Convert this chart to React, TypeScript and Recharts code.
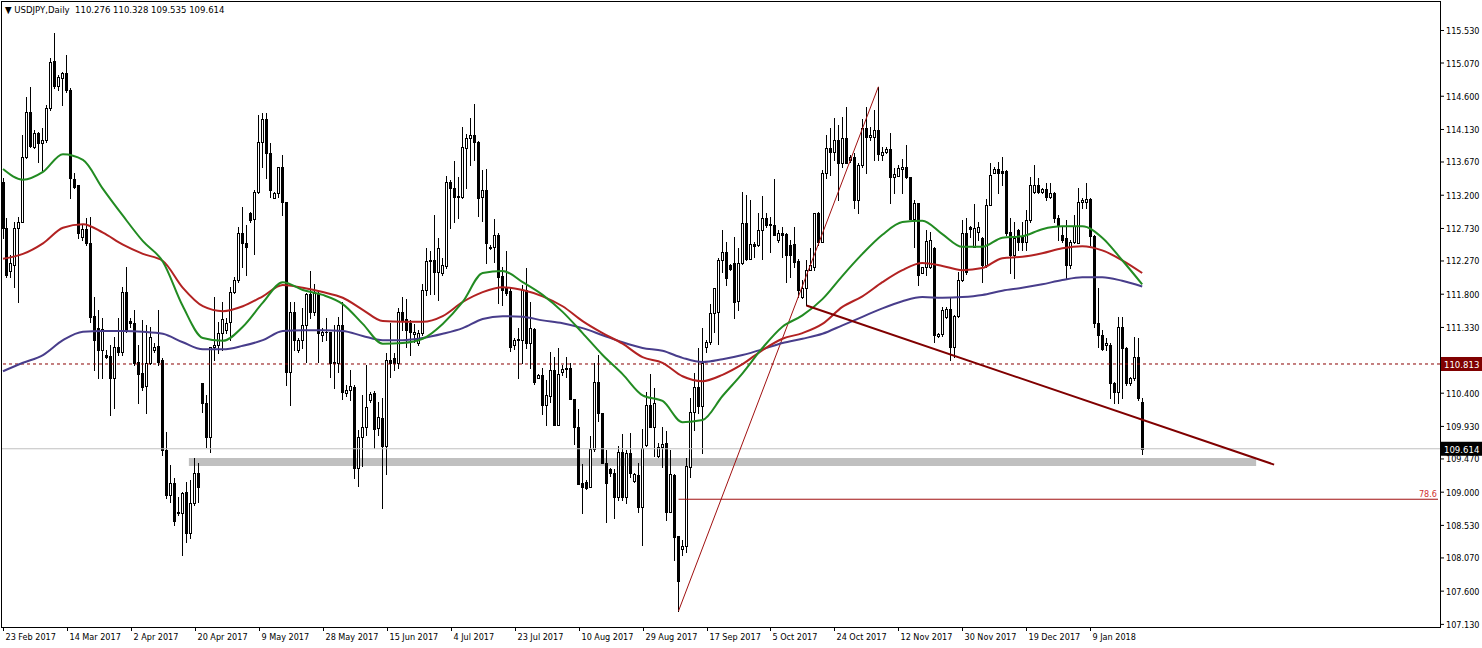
import React from 'react'
import { ComposedChart, Bar, Line, XAxis, YAxis, ReferenceLine, ReferenceArea, ReferenceDot } from 'recharts'

// USDJPY daily, MT4 look

const FONT = "'DejaVu Sans Condensed', 'DejaVu Sans', sans-serif"

const dateLabels = [
  '23 Feb 2017', '14 Mar 2017', '2 Apr 2017', '20 Apr 2017', '9 May 2017', '28 May 2017',
  '15 Jun 2017', '4 Jul 2017', '23 Jul 2017', '10 Aug 2017', '29 Aug 2017', '17 Sep 2017',
  '5 Oct 2017', '24 Oct 2017', '12 Nov 2017', '30 Nov 2017', '19 Dec 2017', '9 Jan 2018',
]
const dateBars = [0, 16, 32, 48, 64, 80, 96, 112, 128, 144, 160, 176, 192, 208, 224, 240, 256, 272]

const priceTicks = [
  107.13, 107.6, 108.07, 108.53, 109.0, 109.47, 109.93, 110.4, 111.33, 111.8,
  112.27, 112.73, 113.2, 113.67, 114.13, 114.6, 115.07, 115.53,
]

const open = [
  113.39, 112.74, 112.13, 112.21, 112.74, 112.82, 113.74, 114.38, 113.88, 114.08,
  113.94, 113.98, 114.43, 115.10, 114.74, 114.86, 114.93, 114.69, 113.43, 113.35,
  112.61, 112.72, 112.52, 111.49, 111.32, 111.01, 110.94, 110.93, 110.61, 111.05,
  110.98, 111.83, 111.42, 111.39, 110.84, 110.69, 110.50, 110.83, 111.01, 111.07,
  110.87, 109.60, 108.96, 109.13, 108.72, 108.70, 109.00, 108.42, 108.85, 109.27,
  110.54, 110.26, 109.78, 111.05, 111.08, 111.25, 111.29, 111.41, 111.83, 112.00,
  112.67, 112.52, 112.95, 112.86, 113.25, 113.95, 114.28, 113.80, 113.16, 113.23,
  113.60, 113.10, 110.70, 111.55, 111.01, 111.15, 111.36, 111.80, 111.55, 111.80,
  111.22, 111.27, 111.27, 110.83, 110.83, 111.36, 110.40, 110.45, 110.49, 109.34,
  109.78, 109.92, 110.30, 110.40, 109.91, 110.05, 109.65, 110.87, 110.90, 110.83,
  111.55, 111.45, 111.39, 111.24, 111.11, 111.25, 111.86, 112.28, 112.28, 112.11,
  112.10, 112.20, 113.39, 113.30, 113.19, 113.18, 113.87, 114.01, 114.05, 113.95,
  113.17, 113.27, 112.47, 112.47, 112.64, 112.06, 111.89, 111.84, 111.08, 111.15,
  111.15, 111.86, 111.11, 111.31, 110.61, 110.66, 110.23, 110.36, 110.73, 109.95,
  110.70, 110.76, 110.76, 110.32, 109.92, 109.13, 109.14, 109.07, 109.61, 110.56,
  110.12, 109.41, 109.33, 109.27, 108.93, 109.57, 108.93, 109.55, 109.16, 109.24,
  108.79, 109.67, 110.23, 109.92, 109.51, 109.64, 109.70, 108.72, 109.24, 108.38,
  108.20, 108.24, 109.35, 110.13, 110.49, 110.22, 111.05, 111.12, 111.53, 111.55,
  112.28, 112.40, 112.21, 112.24, 111.70, 112.24, 112.81, 112.30, 112.51, 112.50,
  112.71, 112.88, 112.78, 112.78, 112.57, 112.67, 112.65, 112.50, 112.51, 112.27,
  111.76, 111.89, 112.14, 112.18, 112.95, 112.54, 113.51, 113.87, 113.81, 113.98,
  113.66, 114.01, 113.70, 113.74, 113.13, 113.63, 114.15, 114.02, 114.02, 114.12,
  113.77, 113.81, 113.85, 113.46, 113.47, 113.57, 113.60, 113.46, 112.86, 113.09,
  112.10, 112.18, 112.18, 112.45, 111.21, 111.24, 111.48, 111.59, 111.05, 111.49,
  112.00, 112.67, 112.75, 112.47, 112.68, 112.59, 112.21, 113.06, 113.51, 113.57,
  113.54, 113.54, 112.68, 112.35, 112.71, 112.61, 112.54, 112.85, 113.25, 113.34,
  113.25, 113.29, 113.18, 113.23, 112.88, 112.64, 112.59, 112.21, 112.54, 112.52,
  113.10, 113.10, 113.15, 112.62, 111.39, 111.22, 111.08, 111.08, 110.54, 110.42,
  111.34, 111.04, 110.54, 110.61, 110.91, 110.276,
]

const high = [
  113.44, 112.88, 112.35, 112.82, 112.89, 114.05, 114.59, 114.73, 114.12, 114.09,
  114.15, 114.48, 115.14, 115.49, 114.90, 114.94, 115.18, 114.72, 113.51, 113.35,
  112.78, 112.88, 112.89, 111.76, 111.58, 111.46, 111.01, 111.08, 111.20, 111.46,
  111.90, 112.18, 111.46, 111.58, 111.08, 111.43, 111.36, 111.34, 111.11, 111.58,
  110.90, 109.85, 109.38, 109.20, 108.93, 109.00, 109.14, 109.17, 109.48, 109.41,
  110.54, 110.37, 111.05, 111.76, 111.41, 111.69, 111.46, 111.90, 112.04, 112.75,
  113.03, 112.78, 112.96, 113.27, 114.33, 114.36, 114.36, 113.94, 113.25, 113.60,
  113.77, 113.10, 111.69, 111.69, 111.18, 111.60, 111.82, 112.13, 111.94, 111.83,
  111.32, 111.46, 111.27, 111.36, 111.48, 111.69, 110.52, 110.73, 110.52, 109.88,
  110.37, 110.80, 110.42, 110.43, 110.27, 110.33, 110.97, 111.39, 110.97, 111.60,
  111.76, 111.73, 111.44, 111.38, 111.29, 111.94, 112.45, 112.41, 112.92, 112.60,
  112.31, 113.47, 113.41, 113.68, 113.46, 114.17, 114.07, 114.29, 114.49, 113.97,
  113.56, 113.57, 112.50, 112.86, 112.67, 112.18, 112.41, 111.89, 111.18, 111.32,
  111.93, 112.17, 111.69, 111.32, 110.67, 110.76, 110.59, 110.98, 110.91, 111.04,
  110.80, 110.91, 110.83, 110.32, 110.18, 109.40, 109.17, 109.79, 110.83, 110.94,
  110.12, 109.60, 109.34, 109.33, 109.65, 109.82, 109.60, 109.84, 109.27, 109.41,
  109.89, 110.42, 110.67, 110.47, 109.70, 109.92, 109.87, 109.60, 109.26, 108.38,
  108.32, 109.48, 110.33, 110.69, 111.04, 111.32, 111.15, 111.66, 111.89, 112.31,
  112.71, 112.54, 112.23, 112.61, 112.45, 113.25, 113.20, 113.13, 112.54, 112.95,
  113.19, 112.95, 112.89, 113.43, 112.71, 112.75, 112.67, 112.57, 112.75, 112.30,
  112.00, 112.28, 112.45, 112.95, 112.96, 113.56, 114.05, 114.15, 114.29, 114.19,
  114.31, 114.45, 113.77, 113.80, 113.66, 114.28, 114.45, 114.17, 114.41, 114.73,
  113.88, 113.88, 114.08, 113.58, 113.63, 113.71, 113.91, 113.46, 113.13, 113.09,
  112.18, 112.71, 112.68, 112.47, 111.25, 111.62, 111.62, 111.76, 111.50, 112.11,
  112.85, 112.88, 112.76, 113.08, 112.82, 112.61, 113.15, 113.66, 113.60, 113.67,
  113.74, 113.56, 112.88, 112.82, 112.72, 112.82, 112.99, 113.46, 113.63, 113.44,
  113.30, 113.37, 113.37, 113.25, 112.92, 112.75, 112.85, 112.57, 112.92, 113.30,
  113.16, 113.37, 113.16, 112.64, 111.89, 111.29, 111.18, 111.11, 110.56, 111.48,
  111.48, 111.05, 110.63, 111.20, 111.18, 110.328,
]

const low = [
  112.60, 112.04, 112.04, 111.90, 111.69, 112.82, 113.73, 113.88, 113.87, 113.67,
  113.56, 113.95, 114.41, 114.72, 114.69, 114.48, 114.66, 113.16, 113.30, 112.60,
  112.57, 112.50, 111.41, 110.73, 110.61, 110.61, 110.90, 110.09, 110.19, 110.94,
  110.94, 111.27, 111.34, 110.80, 110.26, 110.44, 110.12, 110.81, 110.98, 110.80,
  109.53, 108.92, 108.86, 108.54, 108.68, 108.11, 108.30, 108.35, 108.82, 108.86,
  110.13, 109.64, 109.57, 110.87, 110.97, 111.01, 111.25, 111.15, 111.82, 111.97,
  112.18, 112.07, 112.82, 112.37, 113.23, 113.60, 113.44, 113.17, 113.16, 113.17,
  112.92, 110.52, 110.23, 111.01, 110.98, 111.04, 110.84, 111.46, 111.50, 110.84,
  111.14, 111.15, 110.63, 110.47, 110.70, 110.32, 110.36, 110.30, 109.20, 109.09,
  109.37, 109.81, 110.27, 109.62, 109.81, 108.78, 109.26, 110.63, 110.73, 110.76,
  111.29, 111.05, 110.94, 111.12, 111.08, 111.22, 111.79, 111.80, 111.80, 111.72,
  112.07, 112.17, 112.74, 112.82, 112.88, 113.16, 113.30, 113.63, 113.70, 112.90,
  112.84, 112.24, 112.44, 112.25, 111.68, 111.65, 111.79, 110.99, 111.02, 110.61,
  110.83, 111.04, 110.76, 110.53, 110.61, 110.10, 109.95, 110.27, 109.95, 109.95,
  110.66, 110.63, 110.32, 109.68, 109.12, 108.70, 109.04, 109.07, 109.58, 110.01,
  109.41, 108.58, 109.23, 108.63, 108.89, 108.89, 108.85, 109.21, 109.14, 108.72,
  108.25, 109.65, 109.92, 109.51, 109.50, 109.36, 108.61, 108.72, 108.04, 107.32,
  108.11, 108.15, 109.21, 109.88, 110.12, 109.55, 110.98, 111.09, 111.27, 111.09,
  112.11, 111.93, 112.14, 111.46, 111.58, 112.23, 112.28, 112.30, 112.33, 112.48,
  112.30, 112.75, 112.40, 112.64, 112.54, 112.33, 111.97, 112.04, 112.18, 111.76,
  111.75, 111.65, 112.14, 112.14, 112.50, 112.54, 113.44, 113.49, 113.70, 113.13,
  113.60, 113.66, 113.67, 113.02, 112.95, 113.60, 113.51, 113.98, 113.70, 113.70,
  113.70, 113.80, 113.09, 113.23, 113.47, 113.23, 113.44, 112.86, 112.47, 111.93,
  112.10, 112.07, 112.17, 111.12, 111.20, 111.21, 111.46, 110.87, 110.91, 111.48,
  111.99, 112.09, 112.61, 112.47, 112.57, 111.97, 112.18, 113.06, 113.51, 113.23,
  113.34, 112.64, 112.10, 112.03, 112.43, 112.43, 112.43, 112.82, 113.23, 113.23,
  113.23, 113.13, 113.16, 112.82, 112.57, 112.54, 112.03, 112.17, 112.52, 112.52,
  113.02, 113.02, 112.50, 111.34, 111.05, 111.01, 111.01, 110.33, 110.26, 110.26,
  110.33, 110.52, 110.52, 110.59, 110.30, 109.535,
]

const close = [
  112.74, 112.07, 112.24, 112.74, 112.82, 113.74, 114.38, 113.90, 114.08, 113.94,
  113.98, 114.43, 115.08, 114.74, 114.87, 114.93, 114.69, 113.44, 113.31, 112.67,
  112.72, 112.52, 111.48, 111.15, 111.01, 111.31, 110.91, 110.61, 111.05, 110.98,
  111.83, 111.29, 111.39, 110.83, 110.67, 110.49, 110.83, 111.19, 111.05, 110.84,
  109.60, 108.96, 109.13, 108.59, 108.70, 108.99, 108.42, 108.85, 109.27, 109.07,
  110.26, 109.78, 111.05, 111.08, 111.25, 111.45, 111.39, 111.83, 112.00, 112.67,
  112.52, 112.47, 112.85, 113.25, 113.95, 114.28, 113.80, 113.27, 113.23, 113.60,
  113.10, 110.70, 111.55, 111.15, 111.15, 111.36, 111.80, 111.55, 111.82, 111.25,
  111.27, 111.26, 110.83, 110.84, 111.36, 110.42, 110.45, 110.50, 109.34, 109.78,
  109.92, 110.20, 110.39, 109.89, 110.06, 109.65, 110.87, 110.83, 110.83, 111.55,
  111.44, 111.29, 111.27, 111.27, 111.25, 111.86, 112.27, 112.27, 112.11, 112.45,
  112.21, 113.39, 113.30, 113.18, 113.18, 113.88, 114.01, 114.05, 113.95, 113.16,
  113.27, 112.52, 112.46, 112.64, 112.04, 111.86, 111.82, 111.05, 111.15, 111.17,
  111.86, 111.11, 111.32, 110.56, 110.66, 110.23, 110.37, 110.73, 109.95, 110.67,
  110.74, 110.74, 110.32, 109.92, 109.12, 109.07, 109.06, 109.61, 110.56, 110.12,
  109.41, 109.13, 109.27, 108.93, 109.57, 108.93, 109.55, 109.27, 109.26, 108.79,
  109.63, 110.23, 109.92, 110.26, 109.64, 109.68, 108.72, 109.26, 108.37, 107.74,
  108.24, 109.37, 110.13, 110.49, 110.22, 110.83, 111.12, 111.53, 111.89, 112.28,
  112.40, 112.03, 112.16, 111.69, 112.24, 112.81, 112.30, 112.51, 112.48, 112.71,
  112.88, 112.78, 112.79, 112.64, 112.67, 112.64, 112.35, 112.35, 112.25, 111.86,
  111.89, 112.14, 112.21, 112.95, 112.54, 113.51, 113.87, 113.81, 113.98, 113.66,
  114.01, 113.66, 113.74, 113.13, 113.63, 114.15, 114.02, 114.05, 114.12, 113.78,
  113.81, 113.85, 113.46, 113.50, 113.58, 113.60, 113.46, 112.86, 113.09, 112.07,
  112.18, 112.55, 112.57, 111.22, 111.24, 111.58, 111.59, 111.05, 111.49, 112.00,
  112.67, 112.11, 112.72, 112.74, 112.75, 112.21, 113.06, 113.49, 113.57, 113.51,
  113.51, 112.67, 112.35, 112.60, 112.54, 112.54, 112.85, 113.34, 113.34, 113.25,
  113.29, 113.18, 113.23, 112.88, 112.78, 112.57, 112.21, 112.54, 112.77, 113.10,
  113.13, 113.15, 112.62, 111.39, 111.22, 111.02, 111.11, 110.54, 110.42, 111.34,
  111.04, 110.54, 110.61, 110.91, 110.33, 109.614,
]

// moving averages, every 5th bar
const maBars = [
  0, 5, 10, 15, 20, 25, 30, 35, 40, 45, 50, 55, 60, 65, 70, 75, 80, 85, 90, 95,
  100, 105, 110, 115, 120, 125, 130, 135, 140, 145, 150, 155, 160, 165, 170, 175, 180, 185, 190, 195,
  200, 205, 210, 215, 220, 225, 230, 235, 240, 245, 250, 255, 260, 265, 270, 275, 280, 285,
]
const maFast = [
  113.57, 113.42, 113.53, 113.78, 113.70, 113.29, 112.91, 112.55, 112.26, 111.63,
  111.18, 111.14, 111.34, 111.68, 111.97, 111.86, 111.79, 111.66, 111.38, 111.10,
  111.11, 111.17, 111.38, 111.69, 112.10, 112.13, 111.97, 111.79, 111.55, 111.25,
  110.94, 110.67, 110.37, 110.29, 109.99, 110.02, 110.36, 110.68, 111.04, 111.34,
  111.50, 111.73, 112.06, 112.37, 112.64, 112.82, 112.84, 112.65, 112.47, 112.47,
  112.60, 112.62, 112.72, 112.76, 112.76, 112.60, 112.28, 111.94,
]
const maMid = [
  112.30, 112.37, 112.52, 112.74, 112.79, 112.67, 112.50, 112.37, 112.27, 111.89,
  111.63, 111.56, 111.63, 111.77, 111.93, 111.89, 111.83, 111.75, 111.58, 111.42,
  111.41, 111.41, 111.49, 111.69, 111.83, 111.90, 111.86, 111.77, 111.63, 111.42,
  111.25, 111.10, 110.91, 110.83, 110.64, 110.57, 110.66, 110.81, 111.01, 111.17,
  111.25, 111.38, 111.62, 111.77, 111.97, 112.14, 112.24, 112.20, 112.14, 112.17,
  112.31, 112.33, 112.38, 112.45, 112.48, 112.42, 112.28, 112.10,
]
const maSlow = [
  110.71, 110.83, 110.94, 111.15, 111.27, 111.28, 111.28, 111.27, 111.24, 111.12,
  111.02, 111.02, 111.07, 111.15, 111.28, 111.29, 111.29, 111.28, 111.21, 111.15,
  111.15, 111.18, 111.24, 111.32, 111.45, 111.49, 111.48, 111.43, 111.39, 111.32,
  111.22, 111.12, 111.04, 111.00, 110.90, 110.84, 110.88, 110.94, 111.02, 111.11,
  111.17, 111.24, 111.36, 111.48, 111.60, 111.70, 111.76, 111.75, 111.76, 111.79,
  111.85, 111.89, 111.94, 112.00, 112.04, 112.04, 111.99, 111.91,
]

const bidPrice = 109.614
const alertPrice = 110.813
const zone = { from: 47, to: 313, top: 109.483, bottom: 109.37 }
const trend = [{ x: 201, y: 111.64 }, { x: 318, y: 109.39 }]
const fibSwing = [{ x: 169, y: 107.32 }, { x: 219, y: 114.735 }]
const fibLevel = { label: '78.6', price: 108.9, from: 169, to: 359 }
const slots = 360

const rows = Array.from({ length: slots }, (_, i) => {
  const has = i < open.length
  const m = maBars.indexOf(i)
  return {
    i,
    range: has ? [low[i], high[i]] : null,
    o: has ? open[i] : null,
    h: has ? high[i] : null,
    l: has ? low[i] : null,
    c: has ? close[i] : null,
    fast: m >= 0 ? maFast[m] : null,
    mid: m >= 0 ? maMid[m] : null,
    slow: m >= 0 ? maSlow[m] : null,
  }
})

function Candle(props: any) {
  const { x, y, width, height, payload } = props
  if (!payload || payload.o == null || !isFinite(y) || !isFinite(height)) return <g />
  const top = Math.min(y, y + height)
  const bot = Math.max(y, y + height)
  const span = payload.h - payload.l
  const toY = (v: number) => (span > 0 ? top + ((payload.h - v) / span) * (bot - top) : top)
  const cx = Math.round(x + width / 2)
  const yo = Math.round(toY(payload.o))
  const yc = Math.round(toY(payload.c))
  const bull = payload.c >= payload.o
  const bTop = Math.min(yo, yc)
  const bBot = Math.max(yo, yc)
  return (
    <g>
      <line x1={cx + 0.5} x2={cx + 0.5} y1={Math.round(top)} y2={Math.round(bot) + 1} stroke="#000" strokeWidth={1} />
      {bBot - bTop < 1 ? (
        <line x1={cx - 1} x2={cx + 2} y1={bTop + 0.5} y2={bTop + 0.5} stroke="#000" strokeWidth={1} />
      ) : bull ? (
        <rect x={cx - 0.5} y={bTop + 0.5} width={2} height={bBot - bTop} fill="#fff" stroke="#000" strokeWidth={1} />
      ) : (
        <rect x={cx - 1} y={bTop} width={3} height={bBot - bTop + 1} fill="#000" />
      )}
    </g>
  )
}

function DateTick(props: any) {
  const { x, y, payload } = props
  const k = dateBars.indexOf(payload.value)
  if (k < 0) return <g />
  const px = Math.round(x) + 0.5
  return (
    <g>
      <line x1={px} x2={px} y1={y} y2={y + 4} stroke="#000" />
      <text x={px + 2} y={y + 13} fontSize={9} fontFamily={FONT} fill="#000">
        {dateLabels[k]}
      </text>
    </g>
  )
}

function PriceTick(props: any) {
  const { x, y, payload } = props
  return (
    <text x={x} y={y + 3.5} fontSize={9} fontFamily={FONT} fill="#000">
      {payload.value.toFixed(3)}
    </text>
  )
}

function PriceTag(props: any) {
  const { viewBox, text, bg } = props
  if (!viewBox) return null
  const right = viewBox.x + viewBox.width
  const yy = viewBox.y
  return (
    <g>
      <rect x={right + 1} y={yy - 7} width={42} height={14} fill={bg} />
      <text x={right + 4} y={yy + 4} fontSize={9.5} fontFamily={FONT} fill="#fff">
        {text}
      </text>
    </g>
  )
}

function FibLabel(props: any) {
  const { viewBox } = props
  if (!viewBox) return null
  return (
    <text x={viewBox.x - 1} y={viewBox.y - 2} textAnchor="end" fontSize={9} fontFamily={FONT} fill="#d03030">
      {fibLevel.label}
    </text>
  )
}

export default function App() {
  return (
    <div style={{ position: 'absolute', left: 0, top: 0, width: 1482, height: 648, background: '#fff' }}>
      <ComposedChart width={1482} height={648} data={rows} margin={{ top: 2, right: 0, bottom: 0, left: 1 }} barCategoryGap={0}>
        <XAxis dataKey="i" type="category" interval={0} axisLine={false} tickLine={false} tickSize={0} tickMargin={0} height={21} tick={<DateTick />} />
        <YAxis
          orientation="right"
          width={42}
          domain={[107.093, 115.933]}
          allowDataOverflow
          ticks={priceTicks}
          axisLine={false}
          tickSize={4}
          tickMargin={2}
          tickLine={{ stroke: '#000' }}
          tick={<PriceTick />}
        />
        <ReferenceArea x1={zone.from} x2={zone.to} y1={zone.bottom} y2={zone.top} fill="#c0c0c0" fillOpacity={1} stroke="none" />
        <ReferenceLine y={bidPrice} stroke="#c0c0c0" strokeWidth={1} label={<PriceTag text={bidPrice.toFixed(3)} bg="#000" />} />
        <ReferenceLine y={alertPrice} stroke="#8b0000" strokeDasharray="3 3" strokeWidth={1} label={<PriceTag text={alertPrice.toFixed(3)} bg="#800000" />} />
        <ReferenceLine segment={fibSwing} stroke="#a01010" strokeWidth={1} />
        <ReferenceLine segment={[{ x: fibLevel.from, y: fibLevel.price }, { x: fibLevel.to, y: fibLevel.price }]} stroke="#a01010" strokeWidth={1} />
        <ReferenceDot x={fibLevel.to} y={fibLevel.price} r={0} fill="none" stroke="none" label={<FibLabel />} />
        <Line dataKey="slow" type="monotone" stroke="#483d8b" strokeWidth={2} dot={false} connectNulls isAnimationActive={false} />
        <Line dataKey="mid" type="monotone" stroke="#b22222" strokeWidth={2} dot={false} connectNulls isAnimationActive={false} />
        <Line dataKey="fast" type="monotone" stroke="#228b22" strokeWidth={2} dot={false} connectNulls isAnimationActive={false} />
        <Bar dataKey="range" barSize={3} shape={<Candle />} isAnimationActive={false} />
        <ReferenceLine segment={trend} stroke="#800000" strokeWidth={2} />
      </ComposedChart>
      <div
        style={{
          position: 'absolute', left: 1, top: 1, width: 1440, height: 627,
          border: '1px solid #000', boxSizing: 'border-box', pointerEvents: 'none',
        }}
      />
      <div style={{ position: 'absolute', left: 5, top: 4, fontSize: 9.5, fontFamily: FONT, color: '#000', whiteSpace: 'pre', lineHeight: '12px' }}>
        {'\u25BC USDJPY,Daily  110.276 110.328 109.535 109.614'}
      </div>
    </div>
  )
}
